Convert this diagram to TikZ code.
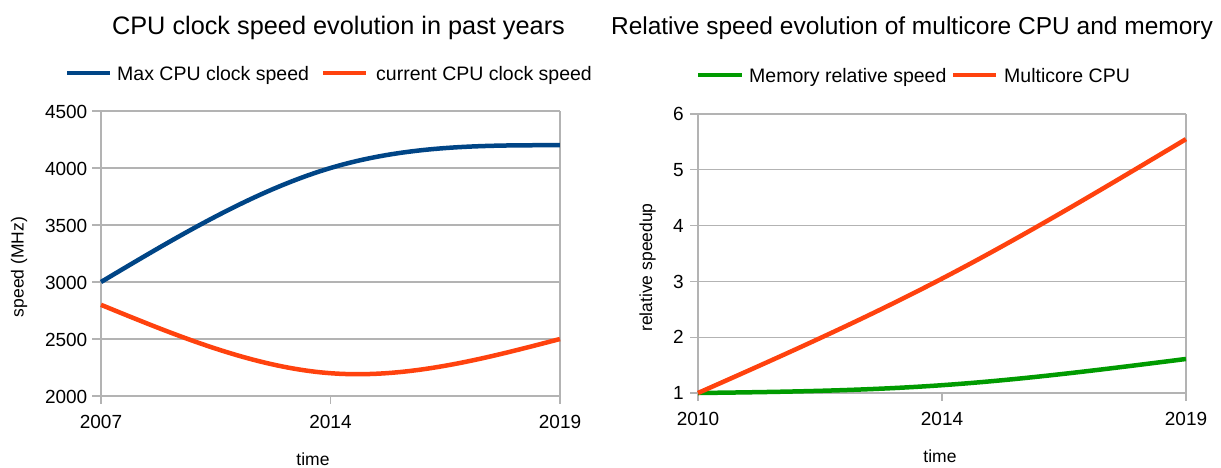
\documentclass[tikz,border=0pt]{standalone}
\usepackage{fontspec}
\setmainfont{Liberation Sans}
\definecolor{sblue}{HTML}{004586}
\definecolor{sorange}{HTML}{FF420E}
\definecolor{sgreen}{RGB}{0,155,0}
\definecolor{grid}{HTML}{B3B3B3}
\begin{document}
\begin{tikzpicture}[x=1pt,y=-1pt,
  gridline/.style={draw=grid,line width=1.3pt},
  series/.style={line width=4.5pt,line join=round},
  titletext/.style={font=\fontsize{25.3}{30}\selectfont,anchor=base,inner sep=0pt},
  legtext/.style={font=\fontsize{19.5}{23}\selectfont,anchor=base west,inner sep=0pt},
  ticktext/.style={font=\fontsize{19}{23}\selectfont,inner sep=0pt},
  axtitle/.style={font=\fontsize{17.5}{21}\selectfont,inner sep=0pt}]
\useasboundingbox[fill=white] (0,0) rectangle (1221,467);

% ===== Left chart =====
\node[titletext] (t1) at (338.5,34) {CPU clock speed evolution in past years};
\coordinate (l1a) at (67,73); \coordinate (l1b) at (110,73);
\draw[series,sblue] (l1a) -- (l1b);
\node[legtext] (lt1) at (117,80) {Max CPU clock speed};
\coordinate (l2a) at (323,73); \coordinate (l2b) at (366,73);
\draw[series,sorange] (l2a) -- (l2b);
\node[legtext] (lt2) at (376,80) {current CPU clock speed};

\foreach \v [count=\i from 0] in {2000,2500,3000,3500,4000,4500}{
  \pgfmathsetmacro{\yy}{396-0.114*(\v-2000)}
  \draw[gridline] (92,\yy) -- (560,\yy);
  \node[ticktext,anchor=base east] (ly\i) at (87.5,\yy+7) {\v};
}
\draw[gridline] (101,111) -- (101,404);
\draw[gridline] (560,111) -- (560,404);
\draw[gridline] (330.5,396) -- (330.5,404);
\node[ticktext,anchor=base] (lx0) at (101,428) {2007};
\node[ticktext,anchor=base] (lx1) at (330.5,428) {2014};
\node[ticktext,anchor=base] (lx2) at (560,428) {2019};
\node[axtitle,anchor=base] (lxt) at (313,465) {time};
\node[axtitle,rotate=90] (lyt) at (19,267) {speed (MHz)};

% max clock: natural spline through 3000, 4000, 4200
\draw[series,sblue] plot[domain=0:1,samples=40,smooth] ({101+229.5*\x},{396-0.114*(-200*\x*\x*\x+1200*\x+1000)})
  -- plot[domain=1:2,samples=40,smooth] ({101+229.5*\x},{396-0.114*(2200-200*(2-\x)*(2-\x)*(2-\x))});
% current clock: natural spline through 2800, 2200, 2500
\draw[series,sorange] plot[domain=0:1,samples=40,smooth] ({101+229.5*\x},{396-0.114*(225*\x*\x*\x+800-825*\x)})
  -- plot[domain=1:2,samples=40,smooth] ({101+229.5*\x},{396-0.114*(225*(2-\x)*(2-\x)*(2-\x)+1975*(2-\x)+2500*(\x-1)-2000)});

% ===== Right chart =====
\node[titletext,font=\fontsize{24.5}{30}\selectfont] (t2) at (912,34) {Relative speed evolution of multicore CPU and memory};
\coordinate (r1a) at (698,75); \coordinate (r1b) at (742,75);
\draw[series,sgreen] (r1a) -- (r1b);
\node[legtext] (rt1) at (749,82) {Memory relative speed};
\coordinate (r2a) at (953,75); \coordinate (r2b) at (996,75);
\draw[series,sorange] (r2a) -- (r2b);
\node[legtext] (rt2) at (1004,82) {Multicore CPU};

\foreach \v in {1,2,3,4,5,6}{
  \pgfmathsetmacro{\yy}{393-55.8*(\v-1)}
  \draw[gridline] (690,\yy) -- (1186,\yy);
  \node[ticktext,anchor=base east] (ry\v) at (684,\yy+6.7) {\v};
}
\draw[gridline] (698,114) -- (698,401);
\draw[gridline] (1186,114) -- (1186,401);
\draw[gridline] (942,393) -- (942,401);
\node[ticktext,anchor=base] (rx0) at (698,425.5) {2010};
\node[ticktext,anchor=base] (rx1) at (942,425.5) {2014};
\node[ticktext,anchor=base] (rx2) at (1186,425.5) {2019};
\node[axtitle,anchor=base] (rxt) at (940,462) {time};
\node[axtitle,rotate=90] (ryt) at (647.5,267.5) {relative speedup};

% memory: natural spline through 1, 1.14, 1.61
\draw[series,sgreen] plot[domain=0:1,samples=40,smooth] ({698+244*\x},{393-55.8*(0.0825*\x*\x*\x+0.0575*\x)})
  -- plot[domain=1:2,samples=40,smooth] ({698+244*\x},{393-55.8*(0.0825*(2-\x)*(2-\x)*(2-\x)+1.0575*(2-\x)+1.61*(\x-1)-1)});
% multicore: natural spline through 1, 3.05, 5.55
\draw[series,sorange] plot[domain=0:1,samples=40,smooth] ({698+244*\x},{393-55.8*(0.1125*\x*\x*\x+1.9375*\x)})
  -- plot[domain=1:2,samples=40,smooth] ({698+244*\x},{393-55.8*(0.1125*(2-\x)*(2-\x)*(2-\x)+2.9375*(2-\x)+5.55*(\x-1)-1)});
\end{tikzpicture}
\end{document}
